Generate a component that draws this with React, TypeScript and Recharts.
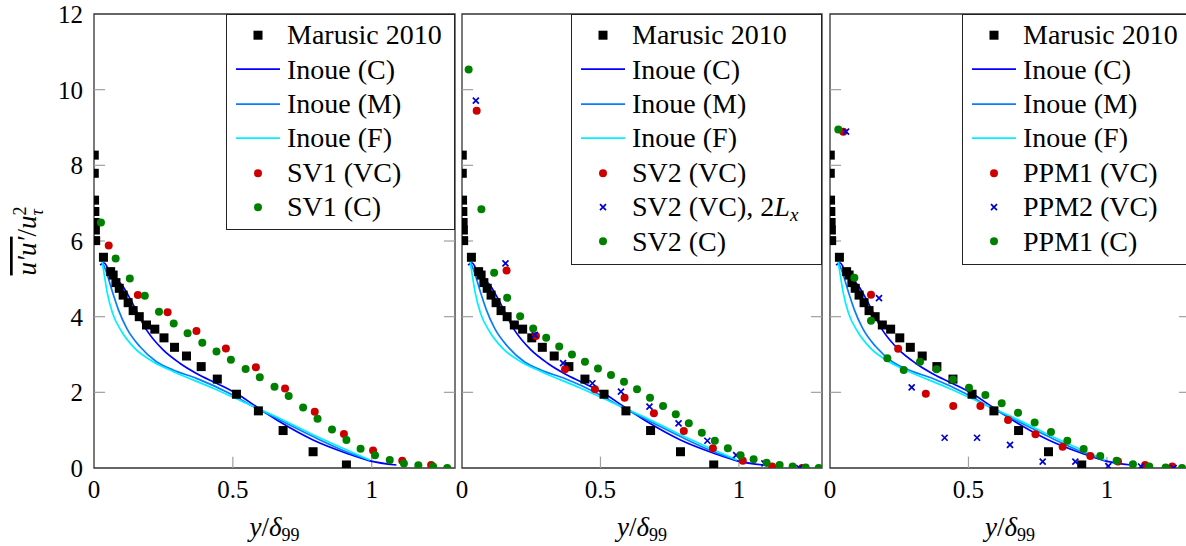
import React from 'react';
import {
  ComposedChart,
  Line,
  Scatter,
  XAxis,
  YAxis,
  ReferenceArea,
  ReferenceLine,
  Legend,
} from 'recharts';

type Pt = [number, number];

const FONT = '"Liberation Serif", serif';

// axis ticks
const xTicks = [0, 0.5, 1];
const yTicks = [0, 2, 4, 6, 8, 10, 12];
const innerYTicks = [2, 4, 6, 8, 10];
const innerXTicks = [0.5, 1];

// experiment (same in every panel)
const marusic: Pt[] = [
  [0.001, 8.27], [0.001, 7.79], [0.002, 7.08], [0.003, 6.78], [0.004, 6.49],
  [0.005, 6.29], [0.006, 6.01], [0.034, 5.57], [0.06, 5.19], [0.069, 5.1],
  [0.079, 4.9], [0.091, 4.75], [0.105, 4.57], [0.123, 4.37], [0.141, 4.16],
  [0.163, 4.0], [0.189, 3.78], [0.219, 3.67], [0.252, 3.44], [0.29, 3.19],
  [0.333, 2.96], [0.386, 2.68], [0.444, 2.35], [0.513, 1.95], [0.592, 1.51],
  [0.681, 0.99], [0.789, 0.43], [0.909, 0.08],
];

// Inoue LES curves (same in every panel)
const inoueC: Pt[] = [
  [0.022, 5.36], [0.036, 5.42], [0.058, 5.15], [0.105, 4.79], [0.129, 4.49],
  [0.189, 3.65], [0.249, 3.12], [0.309, 2.77], [0.369, 2.5], [0.441, 2.24],
  [0.513, 1.97], [0.585, 1.62], [0.669, 1.22], [0.789, 0.74], [0.909, 0.39],
  [0.993, 0.19], [1.089, 0.08],
];
const inoueM: Pt[] = [
  [0.031, 5.43], [0.046, 5.15], [0.064, 4.71], [0.088, 4.18], [0.118, 3.69],
  [0.165, 3.21], [0.225, 2.81], [0.285, 2.59], [0.369, 2.37], [0.489, 1.97],
  [0.585, 1.58], [0.669, 1.27], [0.789, 0.83], [0.909, 0.43], [0.993, 0.21],
];
const inoueF: Pt[] = [
  [0.029, 5.47], [0.036, 5.15], [0.048, 4.62], [0.067, 4.09], [0.1, 3.6],
  [0.147, 3.16], [0.213, 2.81], [0.285, 2.55], [0.429, 2.11], [0.549, 1.71],
  [0.669, 1.31], [0.789, 0.88], [0.909, 0.48], [0.993, 0.21],
];

// panel 1
const sv1VC: Pt[] = [
  [0.053, 5.88], [0.158, 4.57], [0.265, 4.12], [0.369, 3.62], [0.475, 3.16],
  [0.583, 2.66], [0.688, 2.1], [0.795, 1.49], [0.9, 0.9], [1.005, 0.46],
  [1.11, 0.19], [1.214, 0.08],
];
const sv1C: Pt[] = [
  [0.025, 6.49], [0.078, 5.54], [0.129, 5.01], [0.183, 4.55], [0.234, 4.13],
  [0.287, 3.82], [0.337, 3.56], [0.39, 3.31], [0.441, 3.08], [0.493, 2.86],
  [0.546, 2.62], [0.597, 2.4], [0.65, 2.15], [0.701, 1.9], [0.753, 1.6],
  [0.805, 1.3], [0.857, 1.02], [0.909, 0.74], [0.96, 0.51], [1.012, 0.34],
  [1.065, 0.21], [1.116, 0.12], [1.168, 0.07], [1.221, 0.04], [1.272, 0.0],
];

// panel 2
const sv2VC: Pt[] = [
  [0.053, 9.44], [0.161, 5.22], [0.267, 3.49], [0.372, 2.61], [0.48, 2.08],
  [0.587, 1.86], [0.693, 1.45], [0.801, 0.98], [0.906, 0.52], [1.014, 0.19],
  [1.12, 0.04], [1.228, 0.0],
];
const sv2VC2Lx: Pt[] = [
  [0.05, 9.71], [0.157, 5.41], [0.263, 3.52], [0.365, 2.77], [0.471, 2.24],
  [0.574, 2.02], [0.677, 1.62], [0.782, 1.18], [0.886, 0.72], [0.99, 0.34],
  [1.092, 0.12], [1.218, 0.0],
];
const sv2C: Pt[] = [
  [0.024, 10.53], [0.07, 6.84], [0.116, 5.16], [0.163, 4.5], [0.21, 4.01],
  [0.257, 3.69], [0.304, 3.44], [0.351, 3.21], [0.397, 3.0], [0.444, 2.81],
  [0.491, 2.63], [0.538, 2.46], [0.585, 2.28], [0.632, 2.08], [0.679, 1.86],
  [0.726, 1.64], [0.772, 1.42], [0.819, 1.18], [0.866, 0.93], [0.913, 0.72],
  [0.96, 0.52], [1.006, 0.34], [1.053, 0.23], [1.1, 0.14], [1.147, 0.08],
  [1.194, 0.04], [1.241, 0.01], [1.288, 0.0],
];

// panel 3
const ppm1VC: Pt[] = [
  [0.048, 8.89], [0.148, 4.58], [0.246, 3.15], [0.346, 1.96], [0.445, 1.64],
  [0.543, 1.64], [0.643, 1.27], [0.742, 0.89], [0.84, 0.56], [0.94, 0.32],
  [1.04, 0.17], [1.138, 0.08], [1.236, 0.04],
];
const ppm2VC: Pt[] = [
  [0.058, 8.89], [0.177, 4.49], [0.295, 2.13], [0.414, 0.8], [0.531, 0.8],
  [0.65, 0.61], [0.768, 0.17], [0.886, 0.17], [1.005, 0.05], [1.123, 0.04],
  [1.241, 0.0],
];
const ppm1C: Pt[] = [
  [0.03, 8.95], [0.088, 5.03], [0.148, 3.89], [0.207, 2.9], [0.266, 2.59],
  [0.325, 2.81], [0.385, 2.61], [0.444, 2.34], [0.502, 2.12], [0.561, 1.93],
  [0.62, 1.71], [0.679, 1.46], [0.739, 1.2], [0.798, 0.95], [0.857, 0.72],
  [0.916, 0.5], [0.976, 0.32], [1.035, 0.19], [1.094, 0.1], [1.153, 0.04],
  [1.212, 0.01], [1.271, 0.0],
];

const BLACK = '#000000';
const BLUE_C = '#0000ff';
const BLUE_M = '#0a7cff';
const CYAN = '#00f0ff';
const RED = '#cc0000';
const GREEN = '#008000';
const XBLUE = '#0000cc';

type Kind = 'square' | 'line' | 'dot' | 'cross';
type Series = { name: React.ReactNode; kind: Kind; color: string; data: Pt[] };

const toRows = (pts: Pt[]) => pts.map(([x, y]) => ({ x, y }));

const shapeFor = (kind: Kind, color: string) => (p: any) => {
  const { cx, cy } = p;
  if (kind === 'square') {
    return <rect x={cx - 4.5} y={cy - 4.5} width={9} height={9} fill={color} />;
  }
  if (kind === 'cross') {
    return (
      <path
        d={`M${cx - 3},${cy - 3}L${cx + 3},${cy + 3}M${cx - 3},${cy + 3}L${cx + 3},${cy - 3}`}
        stroke={color}
        strokeWidth={1.7}
      />
    );
  }
  return <circle cx={cx} cy={cy} r={4} fill={color} />;
};

function Symbol({ kind, color }: { kind: Kind; color: string }) {
  const cx = 31;
  const cy = 17.2;
  return (
    <svg width={60} height={34.4} style={{ flex: 'none' }}>
      {kind === 'line' ? (
        <line x1={9} x2={53} y1={cy} y2={cy} stroke={color} strokeWidth={1.7} />
      ) : (
        shapeFor(kind, color)({ cx, cy })
      )}
    </svg>
  );
}

function LegendBox({ items, width }: { items: Series[]; width: number }) {
  return (
    <div
      style={{
        width,
        boxSizing: 'border-box',
        border: '1.3px solid #222',
        background: '#fff',
        padding: '3px 0 5px 0',
        fontFamily: FONT,
        fontSize: 28,
        color: '#000',
      }}
    >
      {items.map((s, i) => (
        <div key={i} style={{ height: 34.4, display: 'flex', alignItems: 'center', whiteSpace: 'nowrap' }}>
          <Symbol kind={s.kind} color={s.color} />
          <span>{s.name}</span>
        </div>
      ))}
    </div>
  );
}

const common: Series[] = [
  { name: 'Marusic 2010', kind: 'square', color: BLACK, data: marusic },
  { name: 'Inoue (C)', kind: 'line', color: BLUE_C, data: inoueC },
  { name: 'Inoue (M)', kind: 'line', color: BLUE_M, data: inoueM },
  { name: 'Inoue (F)', kind: 'line', color: CYAN, data: inoueF },
];

const panel1: Series[] = [
  ...common,
  { name: 'SV1 (VC)', kind: 'dot', color: RED, data: sv1VC },
  { name: 'SV1 (C)', kind: 'dot', color: GREEN, data: sv1C },
];

const panel2: Series[] = [
  ...common,
  { name: 'SV2 (VC)', kind: 'dot', color: RED, data: sv2VC },
  {
    name: (
      <>
        SV2 (VC), 2<i>L</i>
        <i style={{ fontSize: 19, position: 'relative', top: 5 }}>x</i>
      </>
    ),
    kind: 'cross',
    color: XBLUE,
    data: sv2VC2Lx,
  },
  { name: 'SV2 (C)', kind: 'dot', color: GREEN, data: sv2C },
];

const panel3: Series[] = [
  ...common,
  { name: 'PPM1 (VC)', kind: 'dot', color: RED, data: ppm1VC },
  { name: 'PPM2 (VC)', kind: 'cross', color: XBLUE, data: ppm2VC },
  { name: 'PPM1 (C)', kind: 'dot', color: GREEN, data: ppm1C },
];

const tickStyle = { fill: '#000', fontSize: 25, fontFamily: FONT };
const TICK_GRAY = '#a0a0a0';

function XTitle(props: any) {
  const vb = props.viewBox || { x: 0, width: 0 };
  const cx = vb.x + vb.width / 2;
  return (
    <text x={cx} y={536} textAnchor="middle" fontFamily={FONT} fontSize={27} fill="#000">
      <tspan fontStyle="italic">y</tspan>
      <tspan>/</tspan>
      <tspan fontStyle="italic">δ</tspan>
      <tspan fontSize={18} dy={5}>99</tspan>
    </text>
  );
}

function YTitle() {
  const x = 36;
  const y = 241;
  return (
    <text
      x={x}
      y={y}
      transform={`rotate(-90 ${x} ${y})`}
      textAnchor="middle"
      fontFamily={FONT}
      fontSize={27}
      fill="#000"
    >
      <tspan fontStyle="italic" textDecoration="overline">u′u′</tspan>
      <tspan>/</tspan>
      <tspan fontStyle="italic">u</tspan>
      <tspan fontSize={18} dy={-10}>2</tspan>
      <tspan fontSize={18} fontStyle="italic" dx={-9} dy={17}>τ</tspan>
    </text>
  );
}

function Panel({
  left,
  width,
  marginLeft,
  marginRight,
  showY,
  series,
  legendLeft,
  legendWidth,
}: {
  left: number;
  width: number;
  marginLeft: number;
  marginRight: number;
  showY: boolean;
  series: Series[];
  legendLeft: number;
  legendWidth: number;
}) {
  return (
    <div style={{ position: 'absolute', left, top: 0, fontFamily: FONT }}>
      <ComposedChart
        width={width}
        height={546}
        margin={{ top: 14, right: marginRight, bottom: 0, left: marginLeft }}
        style={{ fontFamily: FONT }}
      >
        <XAxis
          type="number"
          dataKey="x"
          domain={[0, 1.3]}
          ticks={xTicks}
          allowDataOverflow
          height={78}
          axisLine={false}
          tickLine={false}
          tickMargin={6}
          tick={tickStyle}
          tickFormatter={(v) => String(v)}
          label={{ content: (p: any) => <XTitle {...p} /> }}
        />
        <YAxis
          type="number"
          dataKey="y"
          domain={[0, 12]}
          ticks={yTicks}
          allowDataOverflow
          hide={!showY}
          width={94}
          axisLine={false}
          tickLine={false}
          tickMargin={5}
          tick={tickStyle}
          label={showY ? { content: () => <YTitle /> } : undefined}
        />
        {innerYTicks.map((t) => (
          <ReferenceLine
            key={'l' + t}
            segment={[{ x: 0, y: t }, { x: 0.04, y: t }]}
            stroke={TICK_GRAY}
            strokeWidth={1.2}
          />
        ))}
        {innerYTicks.map((t) => (
          <ReferenceLine
            key={'r' + t}
            segment={[{ x: 1.26, y: t }, { x: 1.3, y: t }]}
            stroke={TICK_GRAY}
            strokeWidth={1.2}
          />
        ))}
        {innerXTicks.map((t) => (
          <ReferenceLine
            key={'b' + t}
            segment={[{ x: t, y: 0 }, { x: t, y: 0.3 }]}
            stroke={TICK_GRAY}
            strokeWidth={1.2}
          />
        ))}
        {innerXTicks.map((t) => (
          <ReferenceLine
            key={'t' + t}
            segment={[{ x: t, y: 11.7 }, { x: t, y: 12 }]}
            stroke={TICK_GRAY}
            strokeWidth={1.2}
          />
        ))}
        <ReferenceArea x1={0} x2={1.3} y1={0} y2={12} fill="none" stroke="#333" strokeWidth={1.3} />
        {series.map((s, i) =>
          s.kind === 'line' ? (
            <Line
              key={i}
              data={toRows(s.data)}
              dataKey="y"
              type="monotone"
              stroke={s.color}
              strokeWidth={1.7}
              dot={false}
              activeDot={false}
              isAnimationActive={false}
            />
          ) : (
            <Scatter
              key={i}
              data={toRows(s.data)}
              fill={s.color}
              shape={shapeFor(s.kind, s.color)}
              isAnimationActive={false}
            />
          )
        )}
        <Legend
          layout="vertical"
          align="center"
          verticalAlign="middle"
          wrapperStyle={{ left: legendLeft, top: 14, width: 'auto', margin: 0 }}
          content={() => <LegendBox items={series} width={legendWidth} />}
        />
      </ComposedChart>
    </div>
  );
}

export default function App() {
  return (
    <div
      style={{
        position: 'absolute',
        left: 0,
        top: 0,
        width: 1186,
        height: 546,
        overflow: 'hidden',
        background: '#fff',
        fontFamily: FONT,
      }}
    >
      <Panel left={0} width={462} marginLeft={0} marginRight={7} showY series={panel1} legendLeft={226} legendWidth={229} />
      <Panel left={440} width={390} marginLeft={22} marginRight={8} showY={false} series={panel2} legendLeft={131} legendWidth={251} />
      <Panel left={808} width={390} marginLeft={22} marginRight={8} showY={false} series={panel3} legendLeft={154} legendWidth={228} />
    </div>
  );
}
